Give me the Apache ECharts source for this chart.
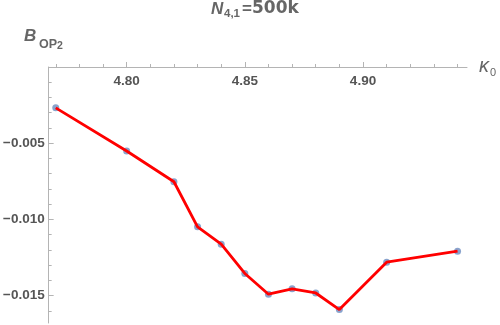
<!DOCTYPE html>
<html><head><meta charset="utf-8">
<script src="https://cdn.jsdelivr.net/npm/echarts@6/dist/echarts.min.js"></script>
<style>html,body{margin:0;padding:0;background:#fff}#c{width:500px;height:325px}</style>
</head><body><div id="c"></div>
<script>
const kappa = [4.77, 4.80, 4.82, 4.83, 4.84, 4.85, 4.86, 4.87, 4.88, 4.89, 4.91, 4.94];
const bop2 = [-0.00268, -0.00551, -0.00753, -0.01049, -0.01163, -0.01355, -0.01491, -0.01456, -0.01483, -0.01592, -0.01281, -0.01209];
const xMajorTicks = [4.80, 4.85, 4.90];
const xMinorTicks = [4.77, 4.78, 4.79, 4.81, 4.82, 4.83, 4.84, 4.86, 4.87, 4.88, 4.89, 4.91, 4.92, 4.93, 4.94];
const yMajorTicks = [-0.015, -0.010, -0.005];
const yMinorTicks = [-0.016, -0.014, -0.013, -0.012, -0.011, -0.009, -0.008, -0.007, -0.006, -0.004, -0.003, -0.002, -0.001];
const xMin = 4.767, xMax = 4.944, yMin = -0.0168, yMax = 0;

const axisGray = '#b4b4b4';
const labelGray = '#555555';
const chart = echarts.init(document.getElementById('c'), null, {renderer: 'canvas'});
const pts = kappa.map((k, i) => [k, bop2[i]]);
const fmtY = v => '\u2212' + Math.abs(v).toFixed(3);
const labelStyle = {color: labelGray, fontFamily: 'Liberation Sans', fontWeight: 'bold', fontSize: 13.5};

chart.setOption({
  animation: false,
  grid: {left: 46, right: 33, top: 67, bottom: 2, containLabel: false},
  xAxis: [
    {type: 'value', position: 'top', min: xMin, max: xMax,
     axisLine: {show: true, onZero: false, lineStyle: {color: axisGray, width: 1}},
     axisTick: {show: true, inside: false, length: 5, customValues: xMajorTicks, lineStyle: {color: axisGray}},
     axisLabel: Object.assign({show: true, inside: true, margin: 7, customValues: xMajorTicks, formatter: v => v.toFixed(2)}, labelStyle),
     splitLine: {show: false}},
    {type: 'value', position: 'top', min: xMin, max: xMax,
     axisLine: {show: false},
     axisTick: {show: true, inside: false, length: 3, customValues: xMinorTicks, lineStyle: {color: axisGray}},
     axisLabel: {show: false},
     splitLine: {show: false}}
  ],
  yAxis: [
    {type: 'value', position: 'left', min: yMin, max: yMax,
     axisLine: {show: true, onZero: false, lineStyle: {color: axisGray, width: 1}},
     axisTick: {show: true, inside: true, length: 5, customValues: yMajorTicks, lineStyle: {color: axisGray}},
     axisLabel: Object.assign({show: true, inside: false, margin: 4, customValues: yMajorTicks, formatter: fmtY}, labelStyle),
     splitLine: {show: false}},
    {type: 'value', position: 'left', min: yMin, max: yMax,
     axisLine: {show: false},
     axisTick: {show: true, inside: true, length: 3, customValues: yMinorTicks, lineStyle: {color: axisGray}},
     axisLabel: {show: false},
     splitLine: {show: false}}
  ],
  series: [
    {type: 'scatter', xAxisIndex: 0, yAxisIndex: 0, data: pts, symbolSize: 7, z: 2,
     itemStyle: {color: '#6c8cc0'}},
    {type: 'line', xAxisIndex: 0, yAxisIndex: 0, data: pts, showSymbol: false, z: 3,
     lineStyle: {color: '#ff0000', width: 2.8}}
  ],
  graphic: [
    {type: 'text', left: 211, top: 1, style: {text: 'N', font: 'italic bold 17px "Liberation Sans"', fill: '#666'}},
    {type: 'text', left: 224, top: 8, style: {text: '4,1', font: 'bold 11.5px "Liberation Sans"', fill: '#666'}},
    {type: 'text', left: 242, top: 1, style: {text: '=', font: 'bold 17px "Liberation Sans"', fill: '#666'}},
    {type: 'text', left: 252, top: 0, style: {text: '500k', font: 'bold 17px "DejaVu Sans"', fill: '#666'}},
    {type: 'text', left: 24, top: 28, style: {text: 'B', font: 'italic bold 17px "Liberation Sans"', fill: '#666'}},
    {type: 'text', left: 39, top: 38, style: {text: 'OP', font: 'bold 12.5px "Liberation Sans"', fill: '#666'}},
    {type: 'text', left: 57, top: 41, style: {text: '2', font: 'bold 10.5px "Liberation Sans"', fill: '#666'}},
    {type: 'text', left: 479, top: 56, style: {text: '\u03ba', font: 'italic 20px "Liberation Sans"', fill: '#666'}},
    {type: 'text', left: 490, top: 67, style: {text: '0', font: '11px "Liberation Sans"', fill: '#666'}}
  ]
});
</script></body></html>
